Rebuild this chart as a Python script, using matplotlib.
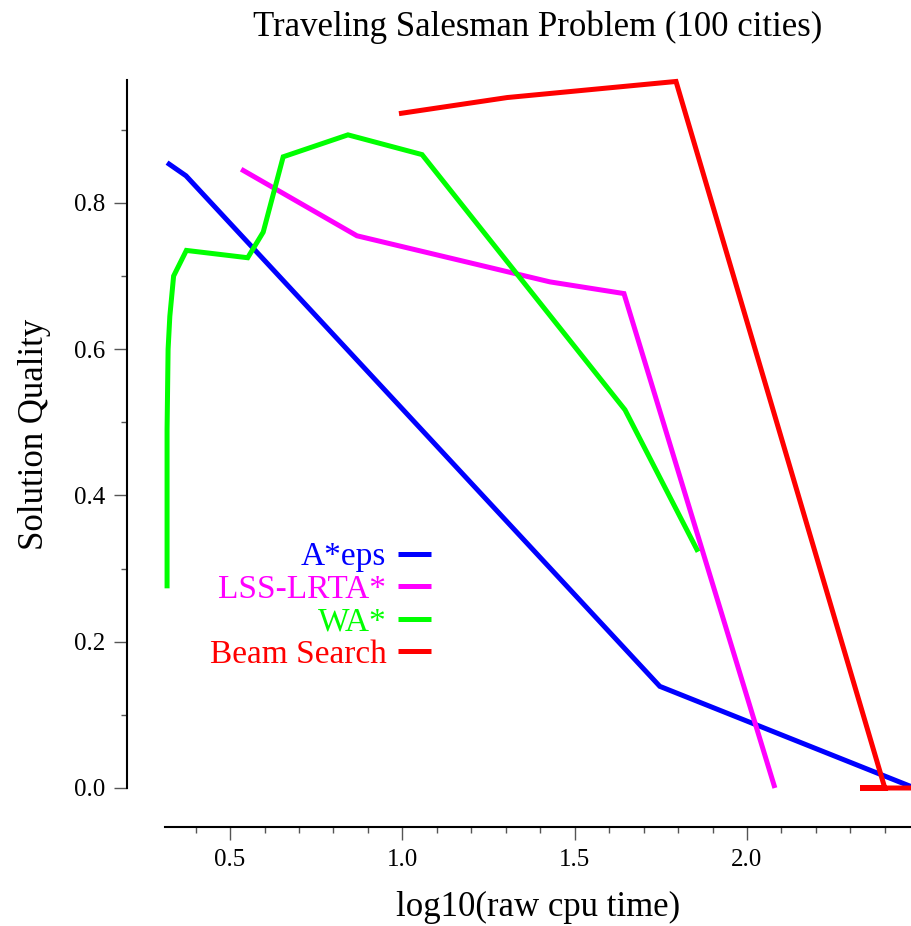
import matplotlib
matplotlib.use("Agg")
import matplotlib.pyplot as plt
from matplotlib.ticker import MultipleLocator

plt.rcParams['font.family'] = ['Liberation Serif', 'DejaVu Serif']

# log10(raw cpu time) vs solution quality, one list pair per search algorithm
astar_x = [0.317, 0.372, 1.747, 2.476]
astar_y = [0.855, 0.837, 0.139, 0.002]

lss_x = [0.532, 0.868, 1.428, 1.643, 2.081]
lss_y = [0.846, 0.755, 0.692, 0.676, 0.0]

wa_x = [0.317, 0.317, 0.320, 0.325, 0.336, 0.373, 0.551, 0.596, 0.654, 0.842, 1.057, 1.646, 1.858]
wa_y = [0.273, 0.490, 0.600, 0.645, 0.700, 0.735, 0.725, 0.760, 0.863, 0.893, 0.866, 0.517, 0.323]

beam_x = [0.990, 1.304, 1.794, 2.400, 2.328, 2.476]
beam_y = [0.922, 0.944, 0.966, 0.0, 0.0, 0.0]

labels = ["A*eps", "LSS-LRTA*", "WA*", "Beam Search"]
colors = ["#0000ff", "#ff00ff", "#00ff00", "#ff0000"]

fig = plt.figure(figsize=(9.11, 9.26), dpi=100)
ax = fig.add_axes([165 / 911, 138 / 926, 746 / 911, 708 / 926])

series = [(astar_x, astar_y), (lss_x, lss_y), (wa_x, wa_y), (beam_x, beam_y)]
for (xs, ys), lab, c in zip(series, labels, colors):
    ax.plot(xs, ys, color=c, lw=3.6, label=lab, clip_on=False,
            solid_joinstyle='miter', solid_capstyle='butt')

ax.set_xlim(0.311, 2.476)
ax.set_ylim(0, 0.968)

for s in ["top", "right"]:
    ax.spines[s].set_visible(False)
# spines detached from the data area (offsets in points)
ax.spines["left"].set_position(("outward", 27.4))
ax.spines["bottom"].set_position(("outward", 28.1))
ax.spines["left"].set_linewidth(1.5)
ax.spines["bottom"].set_linewidth(1.5)

ax.xaxis.set_major_locator(MultipleLocator(0.5))
ax.xaxis.set_minor_locator(MultipleLocator(0.1))
ax.yaxis.set_major_locator(MultipleLocator(0.2))
ax.yaxis.set_minor_locator(MultipleLocator(0.1))
ax.xaxis.set_major_formatter(lambda v, p: f"{v:.1f}")
ax.yaxis.set_major_formatter(lambda v, p: f"{v:.1f}")
ax.tick_params(which="major", length=9.5, width=1, color="#555555", labelsize=18, pad=6)
ax.tick_params(which="minor", length=4.5, width=1, color="#555555")

ax.set_title("Traveling Salesman Problem (100 cities)", fontsize=25, pad=32)
ax.set_xlabel("log10(raw cpu time)", fontsize=25, labelpad=15)
ax.set_ylabel("Solution Quality", fontsize=25, labelpad=17)

leg = ax.legend(loc="lower right", bbox_to_anchor=(0.357, 0.167), frameon=False,
                markerfirst=False, fontsize=24, handlelength=1.0, handletextpad=0.35,
                labelspacing=0.06, borderpad=0, borderaxespad=0)
for t, c in zip(leg.get_texts(), colors):
    t.set_color(c)

fig.savefig("out.png", dpi=100)
